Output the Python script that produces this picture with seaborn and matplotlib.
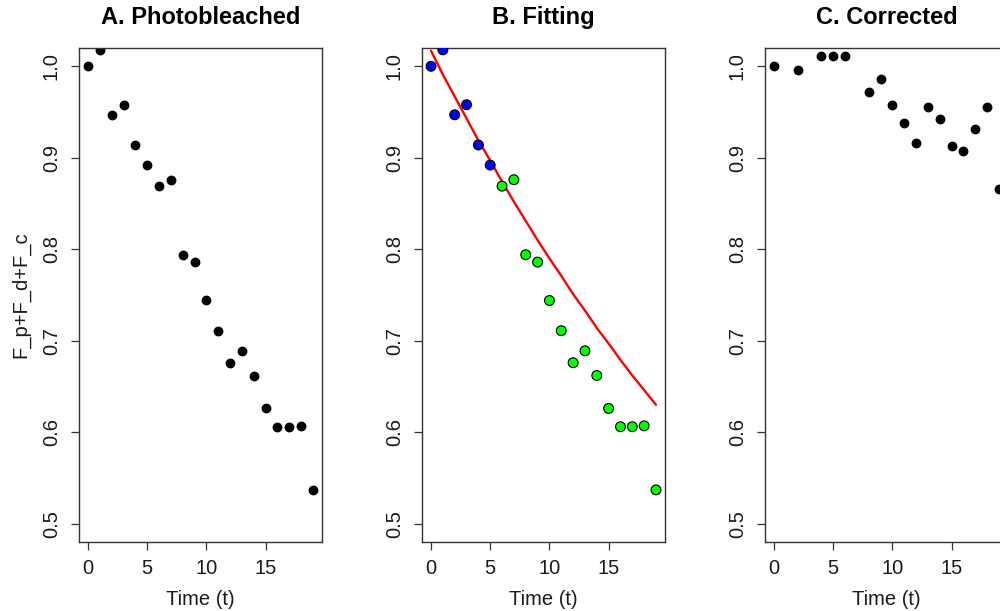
import numpy as np
import pandas as pd
import matplotlib
matplotlib.use("Agg")
import matplotlib.pyplot as plt
import seaborn as sns

# ---- data ----
time = list(range(20))
photobleached = [1.000, 1.018, 0.947, 0.958, 0.914, 0.892, 0.869, 0.876, 0.794, 0.786,
                 0.744, 0.711, 0.676, 0.689, 0.662, 0.626, 0.606, 0.606, 0.607, 0.537]
fit_group = ["early"] * 6 + ["late"] * 14
fit_curve = [1.017, 0.991, 0.967, 0.943, 0.919, 0.897, 0.874, 0.852, 0.831, 0.810,
             0.790, 0.771, 0.751, 0.733, 0.714, 0.697, 0.679, 0.662, 0.646, 0.630]
corrected = [1.000, np.nan, 0.996, np.nan, 1.011, 1.011, 1.011, np.nan, 0.972, 0.986,
             0.958, 0.938, 0.916, 0.956, 0.942, 0.913, 0.907, 0.931, 0.956, 0.866]
titles = ["A. Photobleached", "B. Fitting", "C. Corrected"]
xticks = [0, 5, 10, 15]
yticks = [0.5, 0.6, 0.7, 0.8, 0.9, 1.0]
ylabel = "F_p+F_d+F_c"
xlabel = "Time (t)"

sns.set_style("ticks")
plt.rcParams["font.family"] = ["Liberation Sans", "DejaVu Sans"]

df = pd.DataFrame({"t": time, "p": photobleached, "g": fit_group,
                   "fit": fit_curve, "c": corrected})

W, H = 1000, 611
fig = plt.figure(figsize=(W / 100, H / 100), dpi=100)
fig.patch.set_facecolor("white")

lefts = [79, 422, 765]
axw, top, bottom = 243, 48, 542
axes = []
for L in lefts:
    ax = fig.add_axes([L / W, (H - bottom) / H, axw / W, (bottom - top) / H])
    axes.append(ax)

msize = 50
# A
sns.scatterplot(data=df, x="t", y="p", ax=axes[0], color="black", s=msize,
                edgecolor="black", linewidth=0, legend=False)
# B
sns.scatterplot(data=df, x="t", y="p", hue="g", ax=axes[1],
                palette={"early": "#0000FF", "late": "#00FF00"}, s=msize,
                edgecolor="black", linewidth=0.8, legend=False, zorder=3)
sns.lineplot(data=df, x="t", y="fit", ax=axes[1], color="#FF0000", linewidth=1.7,
             zorder=2)
# C
sns.scatterplot(data=df.dropna(subset=["c"]), x="t", y="c", ax=axes[2], color="black",
                s=msize, edgecolor="black", linewidth=0, legend=False)

for i, ax in enumerate(axes):
    ax.set_xlim(-0.76, 19.76)
    ax.set_ylim(0.48, 1.02)
    ax.set_xticks(xticks)
    ax.set_yticks(yticks)
    ax.set_xticklabels([str(v) for v in xticks])
    ax.set_yticklabels([f"{v:.1f}" for v in yticks])
    ax.tick_params(axis="both", direction="out", length=6, width=0.9,
                   color="#333333", labelsize=14.5, labelcolor="#1a1a1a")
    ax.tick_params(axis="x", pad=6)
    ax.tick_params(axis="y", pad=7, labelrotation=90)
    for lab in ax.get_yticklabels():
        lab.set_va("center")
    for sp in ax.spines.values():
        sp.set_visible(True)
        sp.set_color("#333333")
        sp.set_linewidth(1.0)
    ax.set_title(titles[i], fontsize=17, fontweight="bold", pad=17, color="black")
    ax.set_xlabel(xlabel, fontsize=14.5, color="#1a1a1a")
    ax.xaxis.set_label_coords(0.5, -0.097)
    if i == 0:
        ax.set_ylabel(ylabel, fontsize=14.5, color="#1a1a1a")
        ax.yaxis.set_label_coords(-0.2, 0.5)
    else:
        ax.set_ylabel("")
    ax.set_facecolor("white")

fig.savefig("out.png", dpi=100, facecolor="white")
